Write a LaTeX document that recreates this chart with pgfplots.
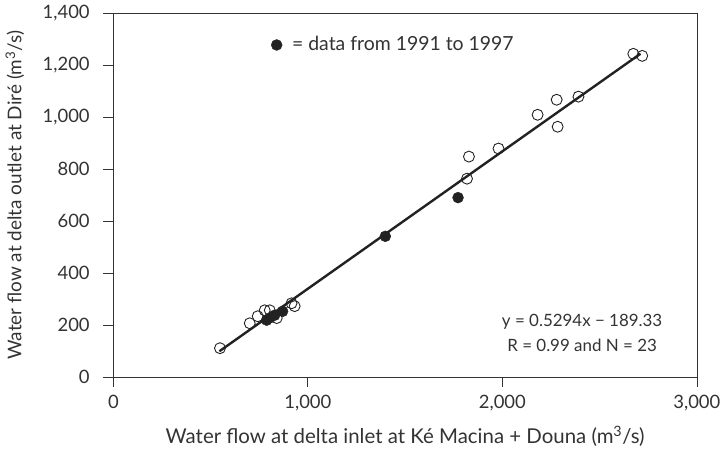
\documentclass[border=0pt]{standalone}
\usepackage{fontspec}
\setmainfont{Lato}
\usepackage{pgfplots}
\pgfplotsset{compat=1.18}
\definecolor{txt}{HTML}{333333}
\definecolor{mk}{HTML}{222222}
\begin{document}
\fontsize{17}{20}\selectfont
\begin{tikzpicture}
\begin{axis}[
  scale only axis, width=586pt, height=365pt,
  xmin=0, xmax=3000, ymin=0, ymax=1400,
  xtick={0,1000,2000,3000}, ytick={0,200,400,600,800,1000,1200,1400},
  tick align=outside, xtick pos=bottom, ytick pos=left,
  major tick length=10pt,
  tick style={draw=txt, line width=0.8pt},
  axis line style={draw=txt, line width=0.8pt},
  /pgf/number format/1000 sep={,},
  /pgf/number format/assume math mode=true,
  every tick label/.append style={font=\fontsize{18.5}{20}\selectfont, text=txt},
  xticklabel style={yshift=-2pt},
  yticklabel style={xshift=-8pt},
  xlabel={Water flow at delta inlet at Ké Macina + Douna (m\textsuperscript{3}/s)},
  ylabel={Water flow at delta outlet at Diré (m\textsuperscript{3}/s)},
  xlabel style={font=\fontsize{20.5}{22}\selectfont, text=txt, yshift=-4pt},
  ylabel style={font=\fontsize{19}{22}\selectfont, text=txt, yshift=7pt},
  legend style={at={(axis cs:795,1279)}, anchor=west, draw=none, fill=none,
    font=\fontsize{19.5}{22}\selectfont, text=txt},
  legend cell align=left,
]
\addlegendimage{only marks, mark=*, mark size=5.5pt, mark options={fill=mk, draw=mk}}
\addlegendentry{\hspace{8pt}= data from 1991 to 1997}
% open circles
\addplot[forget plot, only marks, mark=o, mark size=5.5pt, mark options={draw=mk, line width=0.9pt}]
coordinates {
(548,111) (701,207) (742,234) (778,257) (804,257) (840,227) (916,284) (932,273)
(1828,849) (1818,764) (1980,880) (2181,1010) (2279,1068) (2284,964) (2391,1080)
(2673,1245) (2719,1237)
};
% filled circles
\addplot[forget plot, only marks, mark=*, mark size=5.5pt, mark options={fill=mk, draw=mk}]
coordinates {
(788,219) (805,228) (829,238) (870,253) (1398,542) (1772,691)
};
% regression line y = 0.5294x - 189.33
\addplot[forget plot, mk, line width=2.4pt] coordinates {(545,99.2) (2710,1245.3)};
\node[align=center, text=txt, font=\fontsize{17}{25}\selectfont] at (axis cs:2410,171)
  {y = 0.5294x − 189.33\\R = 0.99 and N = 23};
\end{axis}
\end{tikzpicture}
\end{document}
